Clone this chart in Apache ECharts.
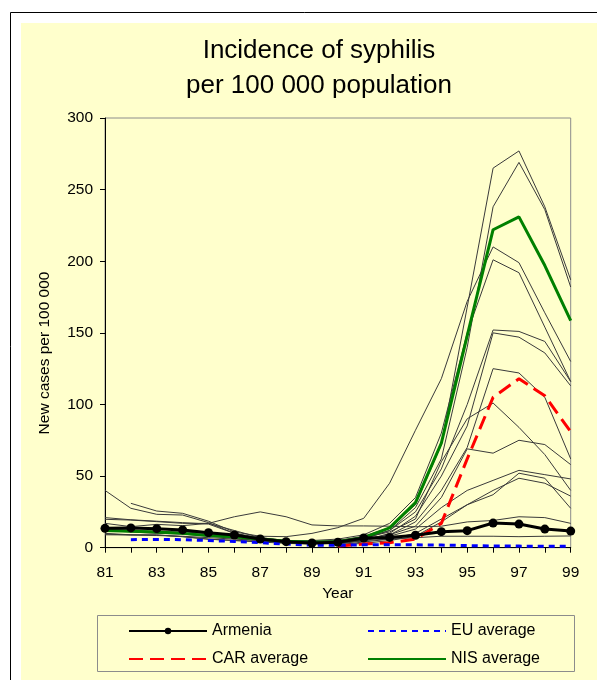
<!DOCTYPE html>
<html><head><meta charset="utf-8">
<script src="https://cdn.jsdelivr.net/npm/echarts@6/dist/echarts.min.js"></script>
<style>html,body{margin:0;padding:0;background:#fff}#c{width:597px;height:680px}</style>
</head><body><div id="c"></div>
<script>
// Categories (years 1981-1999)
const years = ['81','82','83','84','85','86','87','88','89','90','91','92','93','94','95','96','97','98','99'];
const yTicks = [0, 50, 100, 150, 200, 250, 300];

// Highlighted series
const armenia    = [13.5,13.8,13.3,12.4,10.5,8.9,6.1,4.2,3.3,3.8,6.8,7.2,8.7,11.2,11.9,17.2,16.5,13,11.6];
const euAverage  = [null,5.6,5.8,5.6,5.0,4.4,3.5,2.5,1.8,1.6,2.0,2.0,2.0,1.8,1.5,1.2,1.1,1.0,1.0];
const carAverage = [null,null,null,null,null,null,null,null,null,1.2,2.5,3.5,6,17,62,105,118,106,81];
const nisAverage = [12,11.4,11,10,8.6,7.7,6,4.5,3.8,4.2,7,13.8,31.5,73,148,222,231,197,158.5];

// Individual NIS countries (thin lines)
const nisCountryA = [21,19.5,18.5,17.5,16.5,10,6,4.5,4,5,8,14,30,72,168,265,277,238,187];
const nisCountryB = [13,12,11.5,11,10,8,6,4,3.5,4.5,7,12,28,62,140,238,269,236,182];
const nisCountryC = [null,31,25.6,24,18.5,11,8,7.7,10,14,20.5,45,82,118,172,210,199,164,130];
const nisCountryD = [40,27.5,23.3,22.8,17.5,10,7,5,5,6,9,17,35,80,150,201,192,154,116];
const nisCountryE = [10,9,8.5,8,7,6,5,4,3,3.5,6,12,25,55,100,152,151,144,116];
const nisCountryF = [9,8.9,8.9,7.7,6,5,4,3,2.5,3,5,10,22,50,85,150,147,136,113];
const nisCountryG = [12,11,10,9.5,8,6.5,5,3.5,3,3.5,5,9,18,40,70,125,122,105,62];
const nisCountryH = [19.8,19.3,18.2,17,17,12,7,5,4.5,5,7,11,20,60,90,101,84,65,40];
const nisCountryI = [null,null,null,null,null,null,null,null,null,3,6,9,15,35,69,66,75,72,58];
const nisCountryJ = [null,null,null,null,null,null,null,null,null,2.5,5,8,13,28,40,47,54,51,48];
const nisCountryK = [null,null,null,null,null,null,null,null,null,2,4,6,10,20,30,40,48.5,45,36];
const nisCountryL = [null,null,null,null,null,null,null,null,null,2,3,5,8,18,30,37,52,48.5,27.5];
const nisCountryM = [17,14.7,16.3,15.4,17,21.6,25,21.6,15.9,15.2,15.2,15,14.6,15,18,19,21.6,21,17];
const nisCountryN = [9.5,8.9,8.9,7.7,5.9,5,4.5,4,3.5,4,5,6,7,8,8,8,7.7,8,8.2];

const thinLines = [nisCountryA,nisCountryB,nisCountryC,nisCountryD,nisCountryE,nisCountryF,nisCountryG,
                   nisCountryH,nisCountryI,nisCountryJ,nisCountryK,nisCountryL,nisCountryM,nisCountryN];

const FONT = '"Liberation Sans", Arial, sans-serif';
const chart = echarts.init(document.getElementById('c'), null, {renderer: 'canvas'});

const series = thinLines.map((d, i) => ({
  name: 'country' + i, type: 'line', data: d, symbol: 'none', silent: true, z: 2,
  lineStyle: {color: '#3a3a3a', width: 1}
}));
series.push(
  {name: 'CAR average', type: 'line', data: carAverage, symbol: 'none', z: 3,
   lineStyle: {color: '#ff0000', width: 3, type: [14, 7]}, itemStyle: {color: '#ff0000'}},
  {name: 'EU average', type: 'line', data: euAverage, symbol: 'none', z: 3,
   lineStyle: {color: '#0000ff', width: 3, type: [6, 5]}, itemStyle: {color: '#0000ff'}},
  {name: 'NIS average', type: 'line', data: nisAverage, symbol: 'none', z: 4,
   lineStyle: {color: '#008000', width: 3}, itemStyle: {color: '#008000'}},
  {name: 'Armenia', type: 'line', data: armenia, symbol: 'circle', symbolSize: 9, z: 5,
   lineStyle: {color: '#000', width: 3}, itemStyle: {color: '#000'}}
);

const hiddenSym = {color: 'rgba(0,0,0,0)', borderColor: 'rgba(0,0,0,0)', borderWidth: 0};
function legendAt(left, top, item) {
  return {
    orient: 'horizontal', left: left, top: top, itemWidth: 78, itemHeight: 8, padding: 0,
    selectedMode: false, textStyle: {fontSize: 16, color: '#000', fontFamily: FONT},
    data: [item]
  };
}

chart.setOption({
  animation: false,
  backgroundColor: '#ffffff',
  graphic: [
    {type: 'rect', z: -100, shape: {x: 21, y: 23, width: 600, height: 680}, style: {fill: '#ffffcc'}},
    {type: 'line', z: -99, shape: {x1: 10.5, y1: 12.5, x2: 600, y2: 12.5}, style: {stroke: '#000', lineWidth: 1}},
    {type: 'line', z: -99, shape: {x1: 10.5, y1: 12.5, x2: 10.5, y2: 690}, style: {stroke: '#000', lineWidth: 1}},
    {type: 'rect', z: 1, shape: {x: 97.5, y: 615.5, width: 477, height: 56}, style: {fill: null, stroke: '#8c8c8c', lineWidth: 1}},
    {type: 'text', z: 10, style: {text: 'Incidence of syphilis', x: 319, y: 51, textAlign: 'center', textVerticalAlign: 'middle', font: '26px ' + FONT, fill: '#000'}},
    {type: 'text', z: 10, style: {text: 'per 100 000 population', x: 319, y: 86, textAlign: 'center', textVerticalAlign: 'middle', font: '26px ' + FONT, fill: '#000'}},
    {type: 'text', z: 10, x: 45, y: 353, rotation: Math.PI / 2,
     style: {text: 'New cases per 100 000', x: 0, y: 0, textAlign: 'center', textVerticalAlign: 'middle', font: '15.5px ' + FONT, fill: '#000'}}
  ],
  grid: {left: 105, right: 26.3, top: 118, bottom: 132.3, show: true, borderColor: '#8c8c8c', borderWidth: 1, backgroundColor: 'transparent'},
  xAxis: {
    type: 'category', data: years, boundaryGap: false,
    name: 'Year', nameLocation: 'middle', nameGap: 35,
    nameTextStyle: {fontSize: 15.5, color: '#000', fontFamily: FONT},
    axisLine: {lineStyle: {color: '#000', width: 1}},
    axisTick: {show: true, interval: 0, length: 5, lineStyle: {color: '#000'}},
    axisLabel: {interval: 1, margin: 17, fontSize: 15.5, color: '#000', fontFamily: FONT},
    splitLine: {show: false}
  },
  yAxis: {
    type: 'value', min: yTicks[0], max: yTicks[yTicks.length - 1], interval: 50,
    axisLine: {show: true, lineStyle: {color: '#000', width: 1}},
    axisTick: {show: true, length: 5, lineStyle: {color: '#000'}},
    axisLabel: {margin: 12, fontSize: 15.5, color: '#000', fontFamily: FONT},
    splitLine: {show: false}
  },
  legend: [
    legendAt(128, 623, {name: 'Armenia'}),
    legendAt(128, 651, {name: 'CAR average', itemStyle: hiddenSym}),
    legendAt(367, 623, {name: 'EU average', itemStyle: hiddenSym}),
    legendAt(367, 651, {name: 'NIS average', itemStyle: hiddenSym})
  ],
  series: series
});
</script></body></html>
